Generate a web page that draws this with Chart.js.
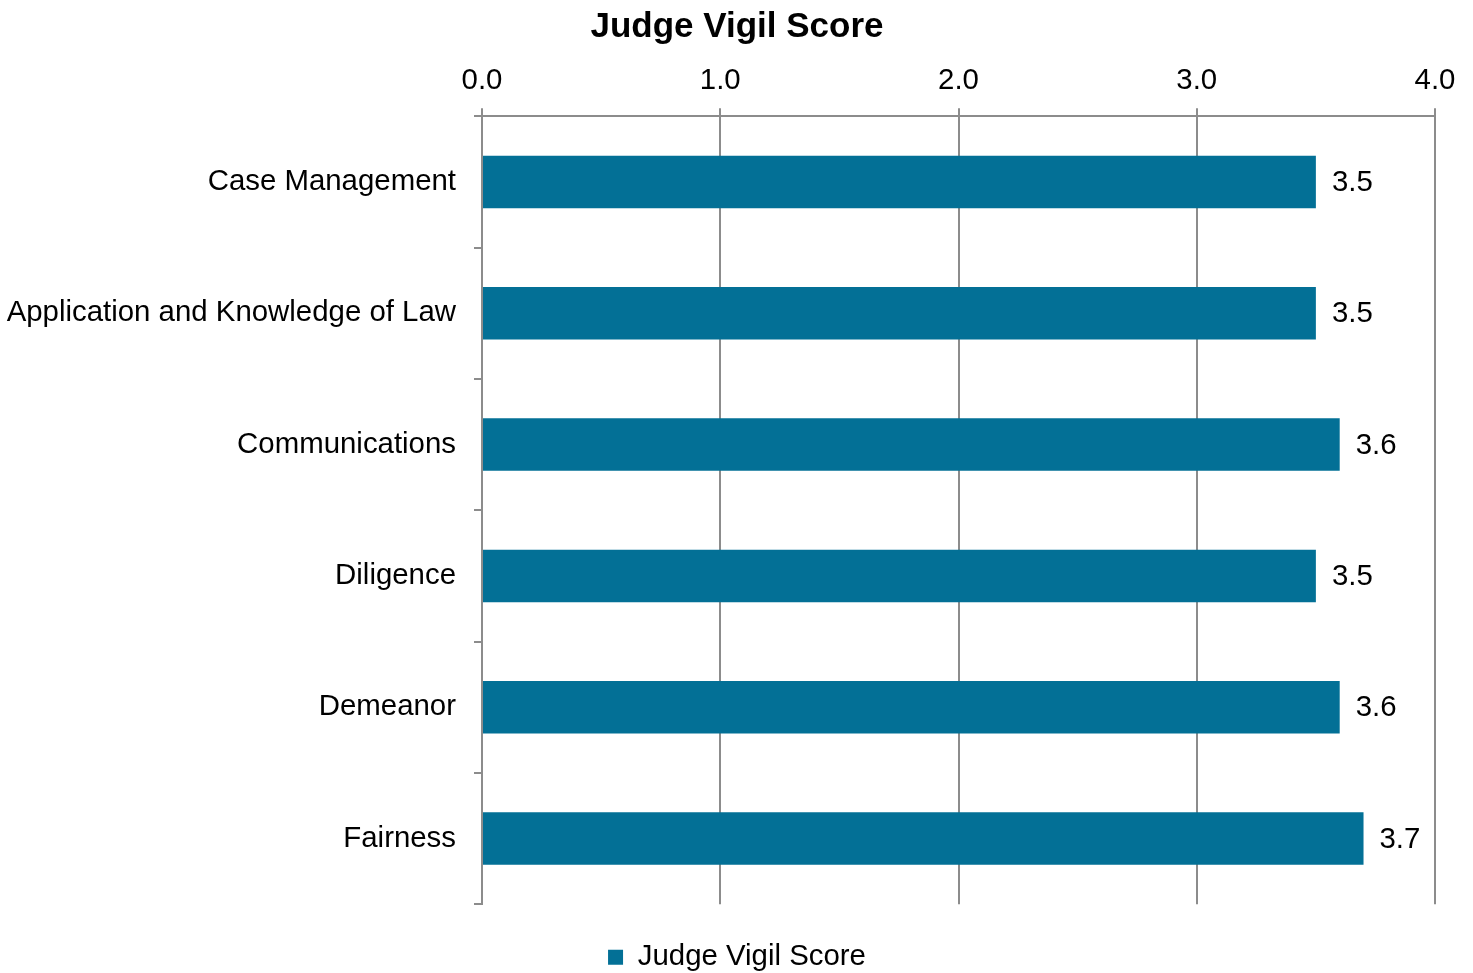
<!DOCTYPE html>
<html>
<head>
<meta charset="utf-8">
<script src="https://cdn.jsdelivr.net/npm/chart.js@4/dist/chart.umd.min.js"></script>
<style>
  html, body { margin: 0; padding: 0; background: #ffffff; }
  #wrap { width: 1473px; height: 973px; }
</style>
</head>
<body>
<div id="wrap"><canvas id="myChart"></canvas></div>
<script>
// Chart data
var categories = ['Case Management', 'Application and Knowledge of Law', 'Communications', 'Diligence', 'Demeanor', 'Fairness'];
var scores = [3.5, 3.5, 3.6, 3.5, 3.6, 3.7];
var xTicks = [0, 1, 2, 3, 4];
var seriesName = 'Judge Vigil Score';

const barColor = '#037096';
const gridColor = '#8c8c8c';
const fontFamily = '"Liberation Sans", Arial, sans-serif';
const labelSize = 29.4;

Chart.defaults.font.family = fontFamily;
Chart.defaults.color = '#000000';

// Let the long category labels run into the left padding without clipping
const unclipLabels = {
    id: 'unclipLabels',
    afterLayout(chart) {
        chart.scales.y.left = 0;
    }
};

// Draw the value next to the end of each bar
const valueLabels = {
    id: 'valueLabels',
    afterDatasetsDraw(chart) {
        const ctx = chart.ctx;
        const meta = chart.getDatasetMeta(0);
        ctx.save();
        ctx.font = labelSize + 'px ' + fontFamily;
        ctx.fillStyle = '#000000';
        ctx.textAlign = 'left';
        ctx.textBaseline = 'middle';
        meta.data.forEach((bar, i) => {
            ctx.fillText(scores[i].toFixed(1), bar.x + 16, bar.y + 1);
        });
        ctx.restore();
    }
};

let ctx = document.getElementById('myChart').getContext('2d');
let myChart = new Chart(ctx, {
    type: 'bar',
    data: {
        labels: categories,
        datasets: [
            {
                label: seriesName,
                data: scores,
                backgroundColor: barColor,
                borderWidth: 0,
                barPercentage: 0.4,
                categoryPercentage: 1.0
            }
        ]
    },
    plugins: [unclipLabels, valueLabels],
    options: {
        indexAxis: 'y',
        responsive: true,
        maintainAspectRatio: false,
        animation: false,
        layout: {
            padding: { left: 39, right: 38, top: 0, bottom: -9 }
        },
        plugins: {
            title: {
                display: true,
                text: seriesName,
                font: { size: 35, weight: 'bold' },
                color: '#000000',
                padding: { top: 6, bottom: 5 }
            },
            legend: {
                display: true,
                position: 'bottom',
                labels: {
                    boxWidth: 15,
                    boxHeight: 15,
                    font: { size: labelSize },
                    color: '#000000',
                    padding: 4
                },
                title: {
                    display: true,
                    text: '',
                    padding: { top: 20, bottom: 0 }
                }
            },
            tooltip: { enabled: false }
        },
        scales: {
            x: {
                position: 'top',
                min: 0,
                max: 4,
                afterBuildTicks: function(axis) {
                    axis.ticks = xTicks.map(v => ({ value: v }));
                },
                ticks: {
                    font: { size: labelSize },
                    color: '#000000',
                    padding: 10,
                    callback: function(value) {
                        return value.toFixed(1);
                    }
                },
                grid: {
                    color: gridColor,
                    lineWidth: 2,
                    tickLength: 8
                },
                border: {
                    color: gridColor,
                    width: 2
                }
            },
            y: {
                offset: true,
                afterFit: function(axis) {
                    axis.width = 443;
                },
                ticks: {
                    font: { size: labelSize },
                    color: '#000000',
                    padding: 18
                },
                grid: {
                    offset: true,
                    drawOnChartArea: false,
                    color: gridColor,
                    lineWidth: 2,
                    tickLength: 8
                },
                border: {
                    color: gridColor,
                    width: 2
                }
            }
        }
    }
});
</script>
</body>
</html>
